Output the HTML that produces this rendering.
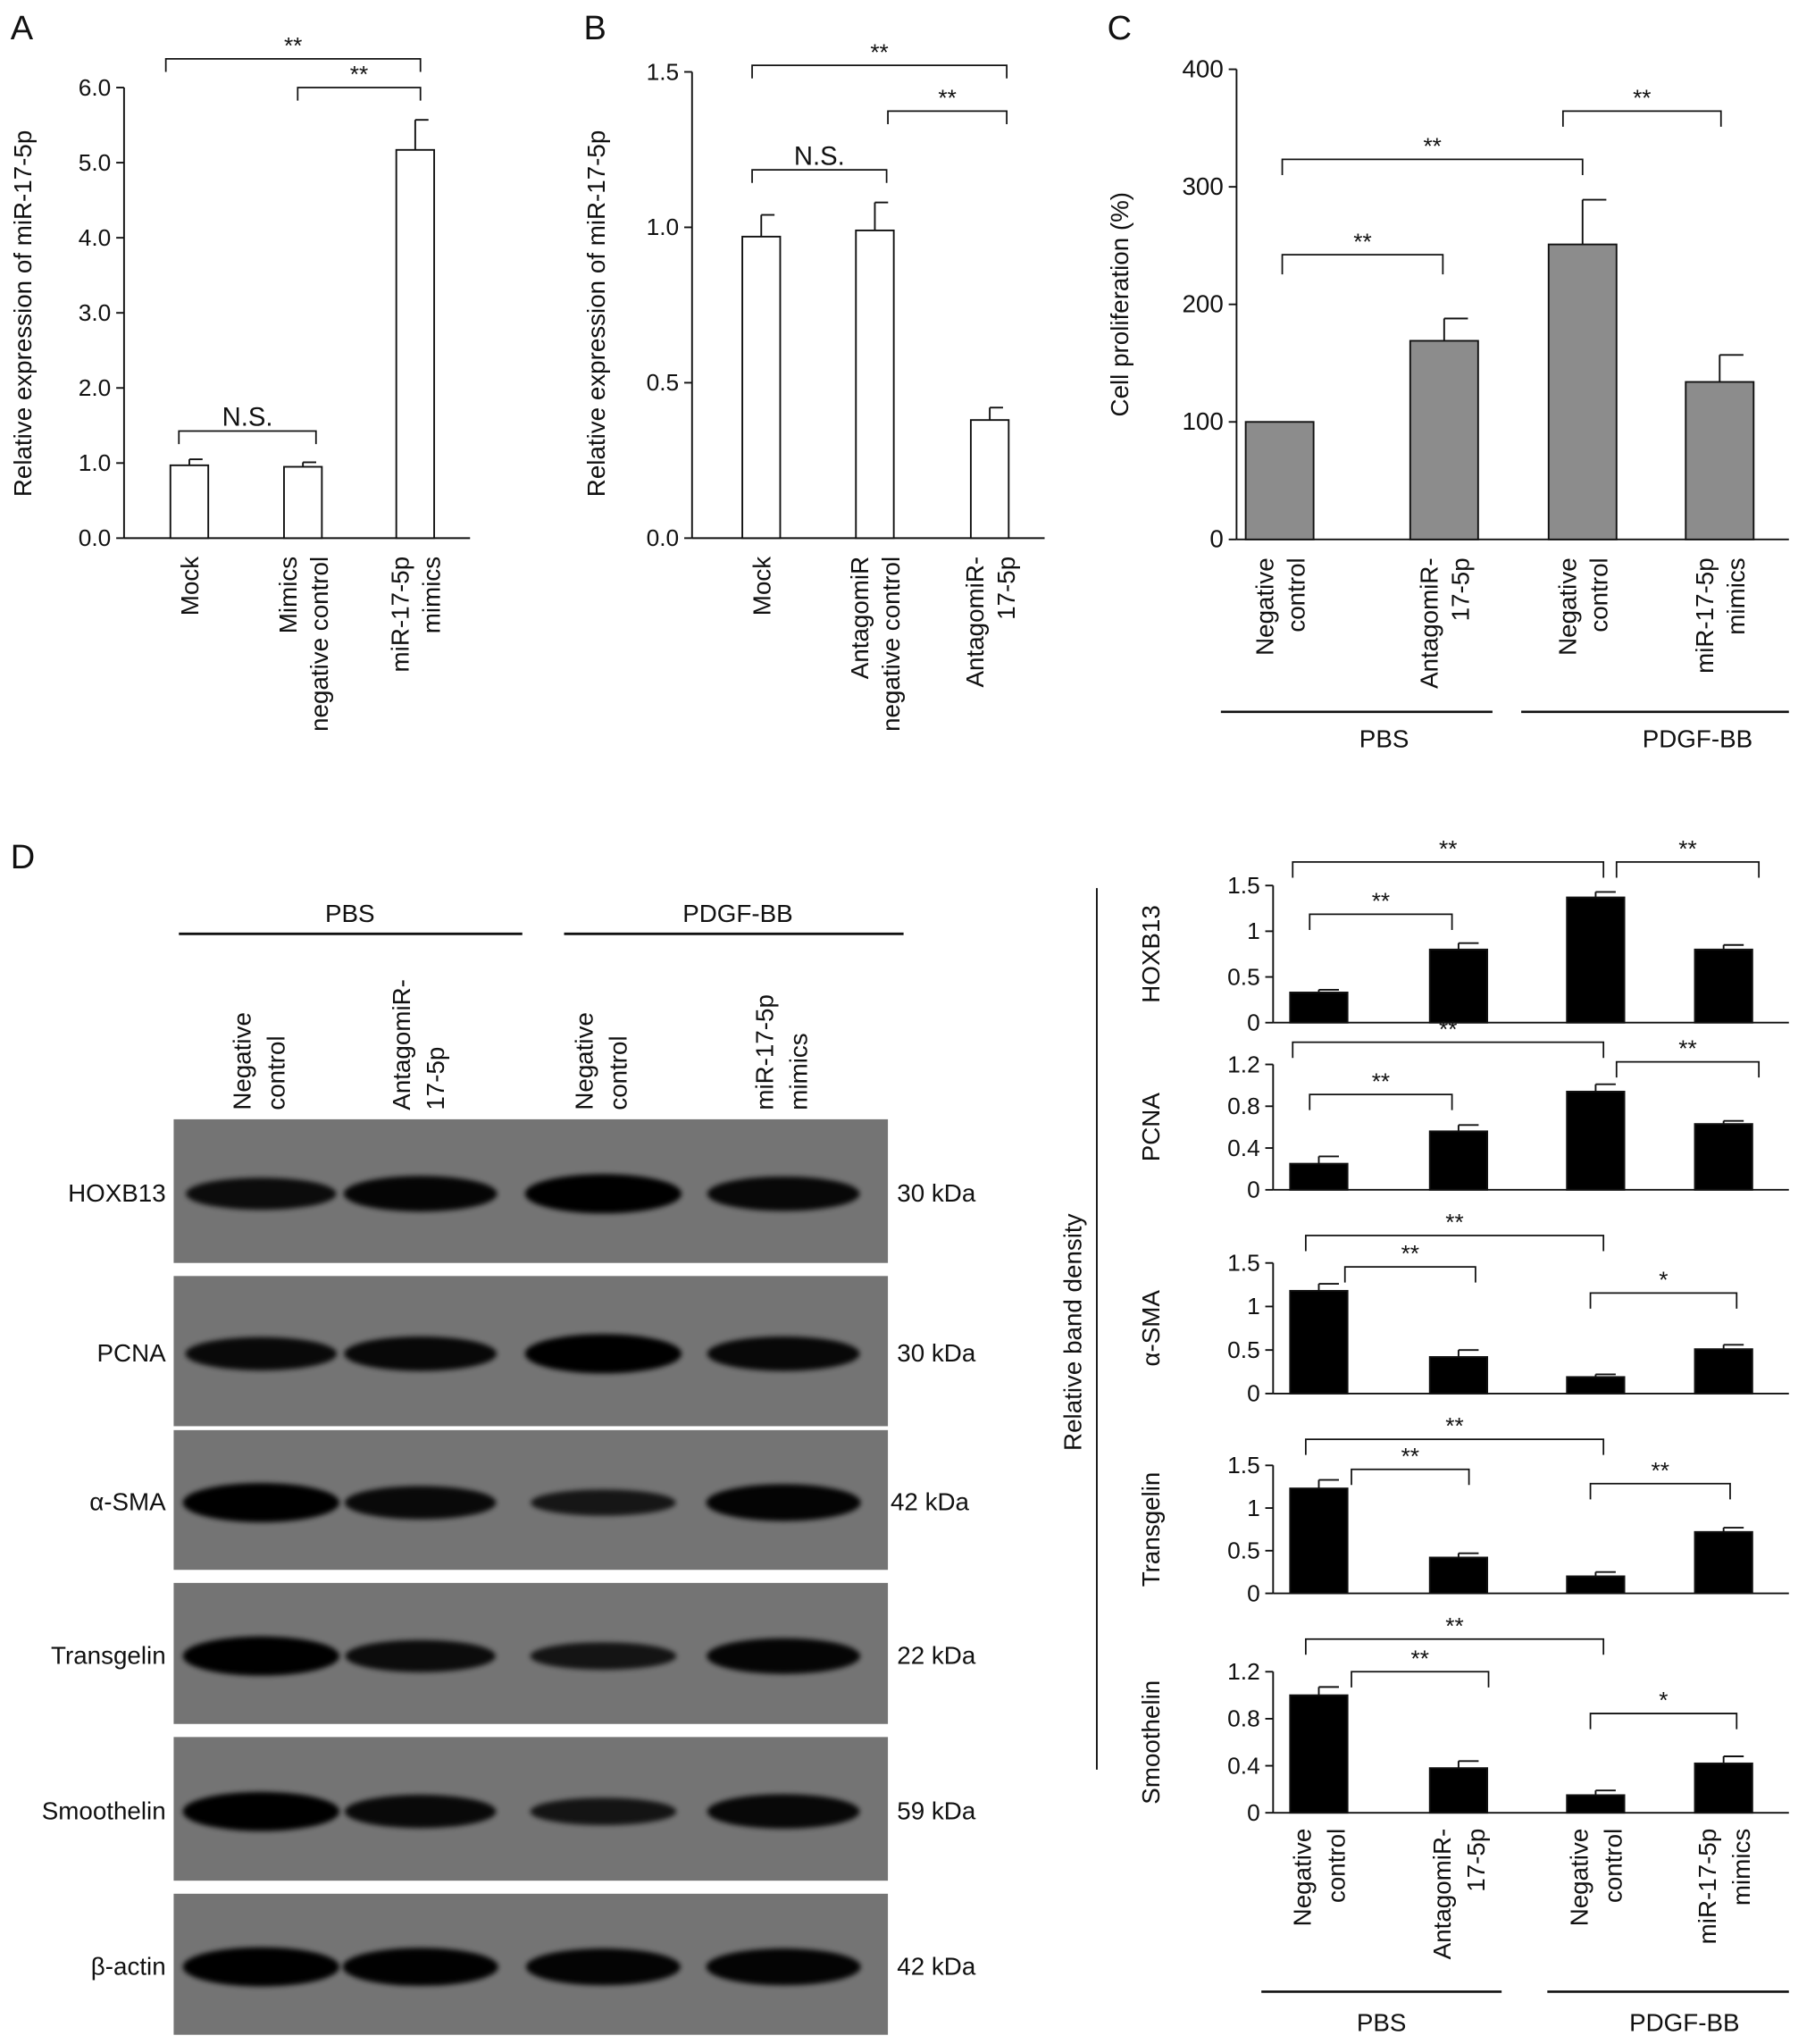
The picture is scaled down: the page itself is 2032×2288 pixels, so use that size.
<!DOCTYPE html>
<html><head><meta charset="utf-8"><style>
html,body{margin:0;padding:0;background:#fff}
svg{display:block}
text{font-family:"Liberation Sans",sans-serif;fill:#111}
</style></head><body>
<svg id="fig" width="2032" height="2288" viewBox="0 0 1390 1565" xmlns="http://www.w3.org/2000/svg">
<defs><filter id="blur" x="-20%" y="-50%" width="140%" height="200%"><feGaussianBlur stdDeviation="2"/></filter></defs>
<g id="root"></g>
</svg>
<script>
// Panel A data
const aCats=[["Mock"],["Mimics","negative control"],["miR-17-5p","mimics"]];
const aVals=[0.97,0.95,5.17];
const aErr=[1.05,1.01,5.57];
const aTicks=["0.0","1.0","2.0","3.0","4.0","5.0","6.0"];
// Panel B data
const bCats=[["Mock"],["AntagomiR","negative control"],["AntagomiR-","17-5p"]];
const bVals=[0.97,0.99,0.38];
const bErr=[1.04,1.08,0.42];
const bTicks=["0.0","0.5","1.0","1.5"];
// Panel C data
const cCats=[["Negative","control"],["AntagomiR-","17-5p"],["Negative","control"],["miR-17-5p","mimics"]];
const cVals=[100,169,251,134];
const cErr=[100,188,289,157];
const cTicks=["0","100","200","300","400"];
// Panel D data
const dProteins=["HOXB13","PCNA","α-SMA","Transgelin","Smoothelin"];
const dHox=[0.33,0.8,1.37,0.8], dHoxErr=[0.36,0.87,1.43,0.85];
const dPcna=[0.25,0.56,0.94,0.63], dPcnaErr=[0.32,0.62,1.01,0.66];
const dSma=[1.18,0.42,0.19,0.51], dSmaErr=[1.26,0.5,0.22,0.56];
const dTag=[1.23,0.42,0.2,0.72], dTagErr=[1.33,0.47,0.25,0.77];
const dSmo=[1.0,0.38,0.15,0.42], dSmoErr=[1.07,0.44,0.19,0.48];
const dTicks15=["0","0.5","1","1.5"], dTicks12=["0","0.4","0.8","1.2"];
const blotRows=["HOXB13","PCNA","α-SMA","Transgelin","Smoothelin","β-actin"];
const blotKda=["30 kDa","30 kDa","42 kDa","22 kDa","59 kDa","42 kDa"];
const bandInt=[[0.7,0.85,1,0.8],[0.75,0.8,1,0.8],[1,0.75,0.45,0.9],[1,0.7,0.5,0.85],[1,0.75,0.5,0.8],[1,0.95,0.9,0.9]];

const NS="http://www.w3.org/2000/svg";
const root=document.getElementById('root');
function el(tag,attrs,parent){const e=document.createElementNS(NS,tag);for(const k in attrs)e.setAttribute(k,attrs[k]);(parent||root).appendChild(e);return e;}
function txt(x,y,s,size,anchor,parent,rot){const t=el('text',{x:x,y:y,'font-size':size,'text-anchor':anchor||'middle'},parent);if(rot)t.setAttribute('transform',`rotate(-90 ${x} ${y})`);t.textContent=s;return t;}
function line(x1,y1,x2,y2,w,parent){return el('line',{x1,y1,x2,y2,stroke:'#111','stroke-width':w||1.3},parent);}
function bracket(x1,x2,y,label,drop,parent){
  const g=el('g',{},parent);
  
  
  el('path',{d:`M${x1},${y+drop} V${y} H${x2} V${y+drop}`,fill:'none',stroke:'#111','stroke-width':1.2},g);
  txt((x1+x2)/2,y-4,label,label==='N.S.'?20:18,'middle',g);
}
function barChart(o){
  const g=el('g',{});
  
  
  const y=v=>o.y0-(v-o.min)/(o.max-o.min)*(o.y0-o.y1);
  line(o.ax,o.y0,o.ax,y(o.max),1.3,g);
  line(o.ax,o.y0,o.axEnd,o.y0,1.3,g);
  o.ticks.forEach((t,i)=>{const v=o.min+(o.max-o.min)*i/(o.ticks.length-1);line(o.ax-6,y(v),o.ax,y(v),1.3,g);txt(o.ax-10,y(v)+6,t,o.tf||18,'end',g);});
  o.vals.forEach((v,i)=>{const cx=o.centers[i];
    const b=el('rect',{x:cx-o.bw/2,y:y(v),width:o.bw,height:o.y0-y(v),fill:o.fill,stroke:'#111','stroke-width':1.3},g);
    
    
    if(o.err[i]>v+1e-9){line(cx,y(v),cx,y(o.err[i]),1.3,g);line(cx,y(o.err[i]),cx+o.bw*0.35,y(o.err[i]),1.3,g);}
  });
  if(o.cats){o.cats.forEach((c,i)=>{const cx=o.centers[i];
    c.forEach((s,j)=>{const xx=cx+(j-(c.length-1)/2)*24+7;txt(xx,o.y0+14,s,o.cf||19,'end',g,true);});
  });}
  return {g,y};
}
[["A",8,30],["B",447,30],["C",848,30],["D",8,665]].forEach(p=>{const t=txt(p[1],p[2],p[0],26,'start');});

barChart({name:'chart-a',ax:95,axEnd:360,y0:412,y1:67,min:0,max:6,ticks:aTicks,vals:aVals,err:aErr,centers:[145,232,318],bw:29,fill:'#fff',cats:aCats});
txt(24,240,"Relative expression of miR-17-5p",19,'middle',root,true);
bracket(127,322,45,"**",10);bracket(228,322,67,"**",10);bracket(137,242,330,"N.S.",10);
barChart({name:'chart-b',ax:530,axEnd:800,y0:412,y1:55,min:0,max:1.5,ticks:bTicks,vals:bVals,err:bErr,centers:[583,670,758],bw:29,fill:'#fff',cats:bCats});
txt(463,240,"Relative expression of miR-17-5p",19,'middle',root,true);
bracket(576,771,50,"**",10);bracket(680,771,85,"**",10);bracket(576,679,130,"N.S.",10);
barChart({name:'chart-c',ax:947,axEnd:1370,y0:413,y1:53,min:0,max:400,ticks:cTicks,vals:cVals,err:cErr,centers:[980,1106,1212,1317],bw:52,fill:'#8c8c8c',cats:cCats,tf:19});
txt(864,233,"Cell proliferation (%)",19,'middle',root,true);
bracket(982,1105,195,"**",15);bracket(982,1212,122,"**",12);bracket(1197,1318,85,"**",12);
line(935,545,1143,545,1.8);line(1165,545,1370,545,1.8);
txt(1060,572,"PBS",19);txt(1300,572,"PDGF-BB",19);

line(137,715,400,715,2);line(432,715,692,715,2);
txt(268,706,"PBS",19);txt(565,706,"PDGF-BB",19);
const colX=[200,322,462,600];
cCats.forEach((c,i)=>c.forEach((s,j)=>txt(colX[i]-8+j*26,850,s,19,'start',root,true)));
const rowY=[[857,967],[977,1092],[1095,1202],[1212,1320],[1330,1440],[1450,1558]];
rowY.forEach((r,i)=>{
  const g=el('g',{});
  
  
  el('rect',{x:133,y:r[0],width:547,height:r[1]-r[0],fill:'#747474'},g);
  const cy=(r[0]+r[1])/2+2;
  colX.forEach((x,j)=>{const k=bandInt[i][j];el('ellipse',{cx:x,cy:cy,rx:52+8*k,ry:6+9*k,fill:'#050505',opacity:0.65+0.35*k,filter:'url(#blur)'},g);});
  txt(127,cy+6,blotRows[i],19,'end',g);
  txt(i==2?682:687,cy+6,blotKda[i],19,'start',g);
});

line(840,680,840,1355,1.3);
txt(828,1020,"Relative band density",19,'middle',root,true);
const dc=[1010,1117,1222,1320];
const sub=[
 {v:dHox,e:dHoxErr,t:dTicks15,max:1.5,y0:783,y1:678,b:[[990,1228,660,"**"],[1238,1347,660,"**"],[1003,1112,700,"**"]]},
 {v:dPcna,e:dPcnaErr,t:dTicks12,max:1.2,y0:911,y1:815,b:[[990,1228,798,"**"],[1238,1347,813,"**"],[1003,1112,838,"**"]]},
 {v:dSma,e:dSmaErr,t:dTicks15,max:1.5,y0:1067,y1:967,b:[[1000,1228,946,"**"],[1030,1130,970,"**"],[1218,1330,990,"*"]]},
 {v:dTag,e:dTagErr,t:dTicks15,max:1.5,y0:1220,y1:1122,b:[[1000,1228,1102,"**"],[1035,1125,1125,"**"],[1218,1325,1136,"**"]]},
 {v:dSmo,e:dSmoErr,t:dTicks12,max:1.2,y0:1388,y1:1280,b:[[1000,1228,1255,"**"],[1035,1140,1280,"**"],[1218,1330,1312,"*"]]}
];
sub.forEach((s,i)=>{
  barChart({name:'chart-d-'+dProteins[i].toLowerCase().replace('α-','alpha-'),ax:975,axEnd:1370,y0:s.y0,y1:s.y1,min:0,max:s.max,ticks:s.t,vals:s.v,err:s.e,centers:dc,bw:44,fill:'#000',tf:18});
  txt(888,(s.y0+s.y1)/2,dProteins[i],19,'middle',root,true);
  s.b.forEach(b=>bracket(b[0],b[1],b[2],b[3],12));
});
cCats.forEach((c,i)=>c.forEach((s,j)=>txt(dc[i]-6+j*26,1400,s,19,'end',root,true)));
line(966,1525,1150,1525,1.8);line(1185,1525,1370,1525,1.8);
txt(1058,1555,"PBS",19);txt(1290,1555,"PDGF-BB",19);
</script>
</body></html>
